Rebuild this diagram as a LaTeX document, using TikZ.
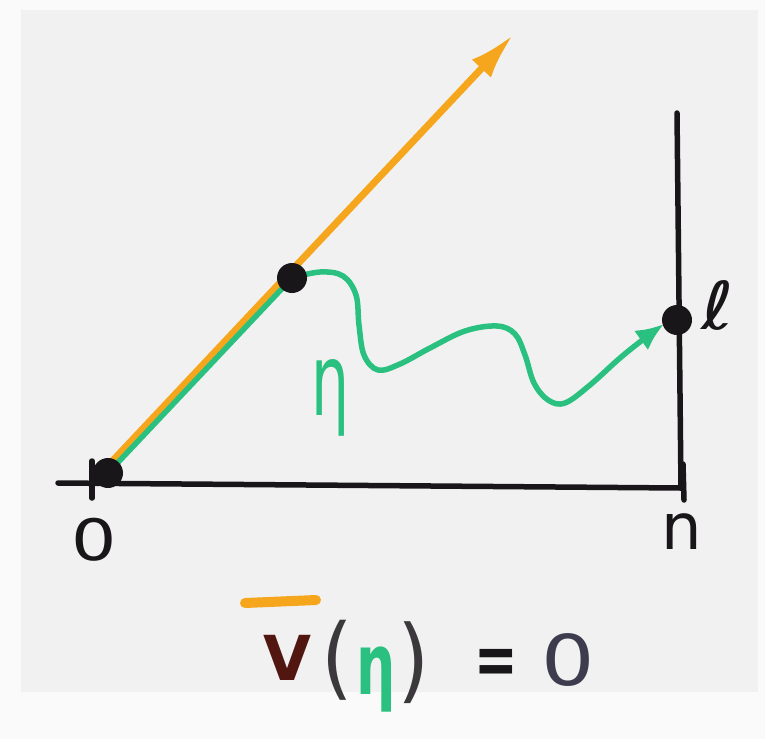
\documentclass[tikz,border=0pt]{standalone}
\usepackage{fontspec}
\setmainfont{DejaVu Sans}
\usetikzlibrary{arrows.meta}
\definecolor{bgg}{RGB}{241,241,241}
\definecolor{outw}{RGB}{250,250,250}
\definecolor{org}{RGB}{246,166,28}
\definecolor{grn}{RGB}{42,192,128}
\definecolor{ink}{RGB}{25,22,25}
\definecolor{brn}{RGB}{80,22,15}
\definecolor{slate}{RGB}{60,60,78}
\begin{document}
\begin{tikzpicture}[x=1pt,y=-1pt,
  axisline/.style={draw=ink,line width=5.5pt,line cap=round},
  orgline/.style={draw=org,line width=7pt,line cap=round},
  grnline/.style={draw=grn,line width=5.5pt,line cap=round,line join=round},
  dotnode/.style={circle,fill=ink,inner sep=0pt,minimum size=30pt},
  lbl/.style={inner sep=0pt,text=ink}]
\fill[outw] (0,0) rectangle (765,739);
\fill[bgg] (21,10) rectangle (758,692);
\useasboundingbox (0,0) rectangle (765,739);
% key points
\coordinate (o) at (108,473);
\coordinate (p) at (292,278);
\coordinate (l) at (677,320);
\coordinate (xl) at (58,483);
\coordinate (xr) at (681,488);
\coordinate (vt) at (677,113);
\coordinate (tka) at (683,464);
\coordinate (tkb) at (684,500);
\coordinate (otka) at (92,461);
\coordinate (otkb) at (92,498);
\coordinate (os) at (104,470);
\coordinate (tip) at (513,35);
\coordinate (lend) at (664,324);
% axes
\draw[axisline] (xl) -- (xr);
\draw[axisline] (vt) -- (xr);
\draw[axisline] (tka) -- (tkb);
\draw[axisline] (otka) -- (otkb);
% orange ray
\draw[orgline,-{Latex[length=46pt,width=26pt]}] (os) -- (tip);
% green straight part
\draw[grnline] (o) -- (p);
% green wavy path
\draw[grnline,-{Latex[length=28pt,width=24pt]}] plot[smooth,tension=0.6] coordinates {(p) (320,272) (343,276) (356,295) (359,325) (364,355) (378,370) (400,364) (430,348) (465,331) (497,326) (515,334) (525,355) (534,383) (548,400) (565,403) (590,385) (620,358) (645,338) (lend)};
% dots
\node[dotnode] (d0) at (o) {};
\node[dotnode] (d1) at (p) {};
\node[dotnode] (d2) at (l) {};
% labels
\node[lbl,font=\fontsize{57}{57}\selectfont,xscale=1.25] (zero) at (94,540) {0};
\node[lbl,font=\fontsize{64}{64}\selectfont] (nlab) at (682,532) {n};
\node[lbl,font=\fontsize{66}{66}\selectfont,xscale=1.2] (ell) at (718,305) {ℓ};
\node[lbl,text=grn,font=\fontsize{100}{100}\selectfont,xscale=0.6] (eta) at (331,398) {η};
% formula
\coordinate (bara) at (245,603);
\coordinate (barb) at (316,600);
\draw[org,line width=10pt,line cap=round] (bara) -- (barb);
\node[lbl,text=brn,font=\bfseries\fontsize{62}{62}\selectfont] (V) at (287,658) {V};
\node[lbl,text=ink!85,font=\fontsize{90}{90}\selectfont,xscale=0.9] (lp) at (337,660) {(};
\node[lbl,text=grn,font=\bfseries\fontsize{85}{85}\selectfont,xscale=0.65] (eta2) at (376,680) {η};
\node[lbl,text=ink!85,font=\fontsize{92}{92}\selectfont,xscale=0.9] (rp) at (414,663) {)};
\node[lbl,font=\bfseries\fontsize{52}{52}\selectfont,yscale=1.4] (eq) at (496,667) {=};
\node[lbl,text=slate,font=\fontsize{70}{70}\selectfont,xscale=1.2] (zr) at (568,660) {0};
\end{tikzpicture}
\end{document}
